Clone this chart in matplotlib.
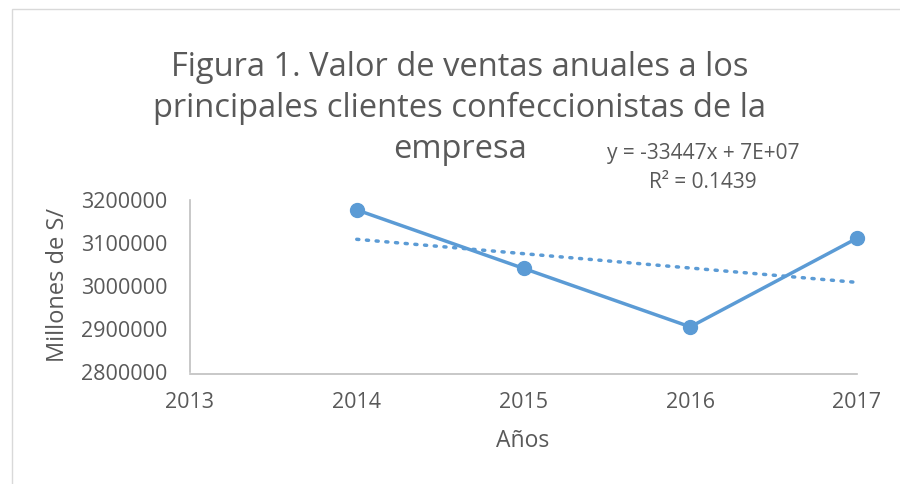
import numpy as np
import matplotlib.pyplot as plt
from matplotlib.patches import Rectangle

years = [2014, 2015, 2016, 2017]
ventas = [3177000, 3041000, 2905000, 3111000]
x_ticks = [2013, 2014, 2015, 2016, 2017]
y_ticks = [2800000, 2900000, 3000000, 3100000, 3200000]

azul = '#5B9BD5'
gris = '#595959'
plt.rcParams['font.family'] = ['Open Sans', 'DejaVu Sans']

fig = plt.figure(figsize=(9, 4.84), dpi=100)
# borde del area del grafico (sale por la derecha y abajo)
fig.patches.append(Rectangle((12 / 900, -0.1), 1.2, 1 - 9 / 484 + 0.1,
                             transform=fig.transFigure, fill=False,
                             edgecolor='#D9D9D9', lw=1))

ax = fig.add_axes([190 / 900, 1 - 372 / 484, 667 / 900, 172 / 484])
ax.plot(years, ventas, color=azul, lw=2.5, marker='o', ms=10, zorder=3,
        clip_on=False)

# linea de tendencia
m, b = np.polyfit(years, ventas, 1)
xt = np.array([years[0], years[-1]])
ax.plot(xt, m * xt + b, color=azul, lw=2.5, linestyle=(0, (0.6, 2.2)),
        dash_capstyle='round', zorder=2)

ax.set_xlim(2013, 2017)
ax.set_ylim(2800000, 3200000)
ax.set_xticks(x_ticks)
ax.set_yticks(y_ticks)
ax.set_yticklabels([str(v) for v in y_ticks])
ax.tick_params(length=0, labelsize=15.5, colors=gris)
ax.tick_params(axis='y', pad=16)
ax.tick_params(axis='x', pad=13)
for s in ['top', 'right']:
    ax.spines[s].set_visible(False)
for s in ['left', 'bottom']:
    ax.spines[s].set_color('#BFBFBF')
    ax.spines[s].set_linewidth(1.2)
ax.spines['bottom'].set_position(('axes', -0.01))
ax.patch.set_alpha(0)

fig.text(523 / 900, 1 - 441 / 484, 'Años', ha='center', va='center',
         fontsize=16.5, color=gris)
fig.text(58 / 900, 1 - 285 / 484, 'Millones de S/', ha='center', va='center',
         rotation=90, fontsize=17, color=gris)

titulo = ['Figura 1. Valor de ventas anuales a los',
          'principales clientes confeccionistas de la',
          'empresa']
for i, linea in enumerate(titulo):
    fig.text(460 / 900, 1 - (67 + 41 * i) / 484, linea, ha='center',
             va='center', fontsize=23.5, color=gris)

fig.text(703 / 900, 1 - 153 / 484, 'y = -33447x + 7E+07', ha='center',
         va='center', fontsize=15, color=gris)
fig.text(703 / 900, 1 - 182 / 484, 'R² = 0.1439', ha='center',
         va='center', fontsize=15, color=gris)

fig.savefig('out.png', dpi=100)
